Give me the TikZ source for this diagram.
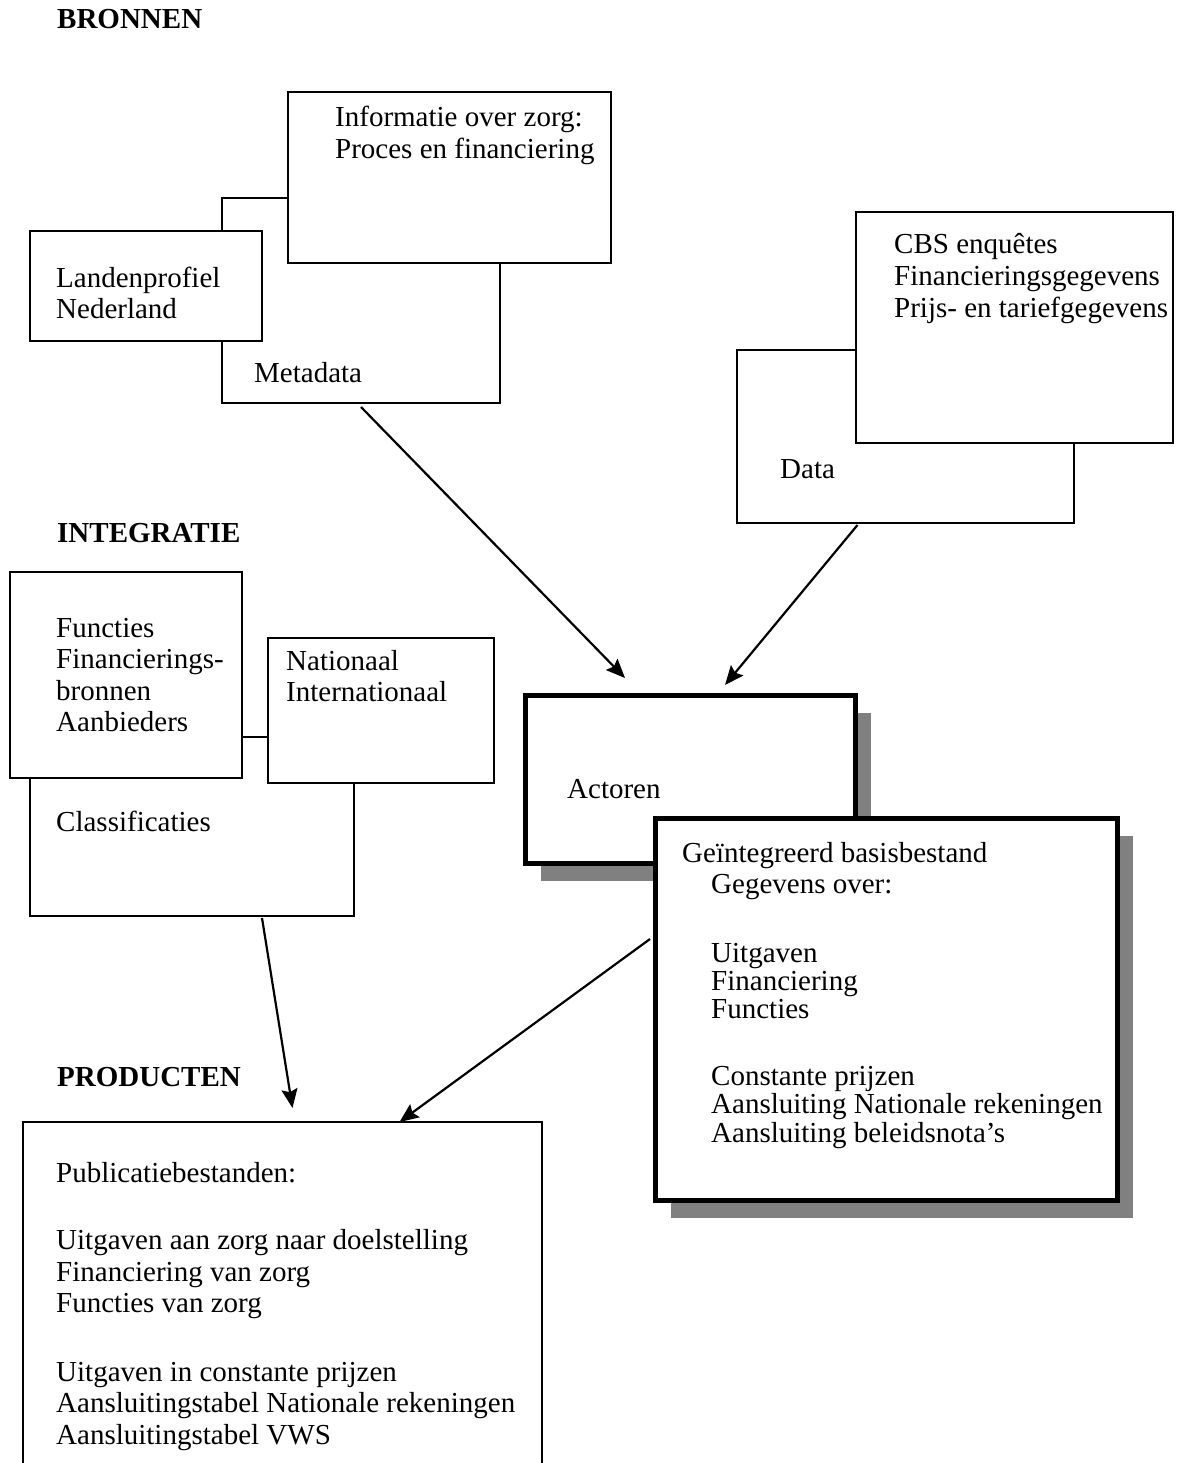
\documentclass[tikz,border=0pt]{standalone}
\usepackage{fontspec}
\setmainfont{Liberation Serif}
\usetikzlibrary{arrows.meta,shadows}

\newcommand{\boxlines}[1]{\begin{tabular}[t]{@{}l@{}}#1\end{tabular}}

\tikzset{
  box/.style={draw, line width=2pt, fill=white, inner sep=0pt, outer sep=0pt, anchor=north west},
  heavybox/.style={box, line width=5pt, drop shadow={shadow xshift=16pt, shadow yshift=-18pt, fill=black!50, opacity=1}},
  lbl/.style={anchor=base west, inner sep=0pt},
  head/.style={lbl, font=\fontsize{29}{31.5}\selectfont\bfseries},
  arr/.style={line width=2.2pt, -{Stealth[length=19pt,width=16pt,inset=3pt]}}
}

\begin{document}
\begin{tikzpicture}[x=1pt, y=-1pt, every node/.style={font=\fontsize{29}{31.5}\selectfont}]
            \path[use as bounding box, clip] (0,0) rectangle (1181,1463);

            % bronnen
            \node[head] (bronnen) at (57,29) {BRONNEN};
            \node[box, minimum width=278pt, minimum height=205pt] (meta) at (222,198) {};
            \node[box, minimum width=323pt, minimum height=171pt] (info) at (288,92) {};
            \node[box, minimum width=232pt, minimum height=110pt] (land) at (30,231) {};
            \node[lbl] (infotxt) at (335,127) {\boxlines{Informatie over zorg:\\ Proces en financiering}};
            \node[lbl] (landtxt) at (56,287) {\boxlines{Landenprofiel\\ Nederland}};
            \node[lbl] (metatxt) at (254,382) {Metadata};

            \node[box, minimum width=337pt, minimum height=173pt] (data) at (737,350) {};
            \node[box, minimum width=317pt, minimum height=231pt] (cbs) at (856,212) {};
            \node[lbl] (cbstxt) at (894,254) {\boxlines{CBS enquêtes\\ Financieringsgegevens\\ Prijs- en tariefgegevens}};
            \node[lbl] (datatxt) at (780,478) {Data};

            % integratie
            \node[head] (integratie) at (57,542) {INTEGRATIE};
            \node[box, minimum width=324pt, minimum height=179pt] (class) at (30,737) {};
            \node[box, minimum width=232pt, minimum height=206pt] (func) at (10,572) {};
            \node[box, minimum width=226pt, minimum height=145pt] (nat) at (268,638) {};
            \node[lbl] (functxt) at (56,637) {\boxlines{Functies\\ Financierings-\\ bronnen\\ Aanbieders}};
            \node[lbl] (nattxt) at (286,670) {\boxlines{Nationaal\\ Internationaal}};
            \node[lbl] (classtxt) at (56,831) {Classificaties};

            \node[heavybox, minimum width=330pt, minimum height=168pt] (act) at (525,695) {};
            \node[heavybox, minimum width=462pt, minimum height=382pt] (geint) at (655,818) {};
            \node[lbl] (acttxt) at (567,798) {Actoren};
            \node[lbl] (geinttitel) at (682,862) {Geïntegreerd basisbestand};
            \node[lbl, font=\fontsize{29}{28}\selectfont] (geinttxt) at (711,893) {\boxlines{Gegevens over:\\[41pt] Uitgaven\\ Financiering\\ Functies\\[39pt] Constante prijzen\\ Aansluiting Nationale rekeningen\\ Aansluiting beleidsnota’s}};

            % producten
            \node[head] (producten) at (57,1086) {PRODUCTEN};
            \node[box, minimum width=519pt, minimum height=400pt] (publ) at (23,1122) {};
            \node[lbl] (publtxt) at (56,1182) {\boxlines{Publicatiebestanden:\\[36pt] Uitgaven aan zorg naar doelstelling\\ Financiering van zorg\\ Functies van zorg\\[37pt] Uitgaven in constante prijzen\\ Aansluitingstabel Nationale rekeningen\\ Aansluitingstabel VWS}};

            \draw[arr] ([yshift=-4pt]meta.south) -- ([xshift=-65pt,yshift=17pt]act.north);
            \draw[arr] ([xshift=-48pt,yshift=-2pt]data.south) -- ([xshift=35pt,yshift=10pt]act.north);
            \draw[arr] ([xshift=70pt,yshift=-2pt]class.south) -- ([xshift=10pt,yshift=14pt]publ.north);
            \draw[arr] ([xshift=-5pt,yshift=-121pt]geint.north west) -- ([xshift=117pt]publ.north);
        \end{tikzpicture}
\end{document}
